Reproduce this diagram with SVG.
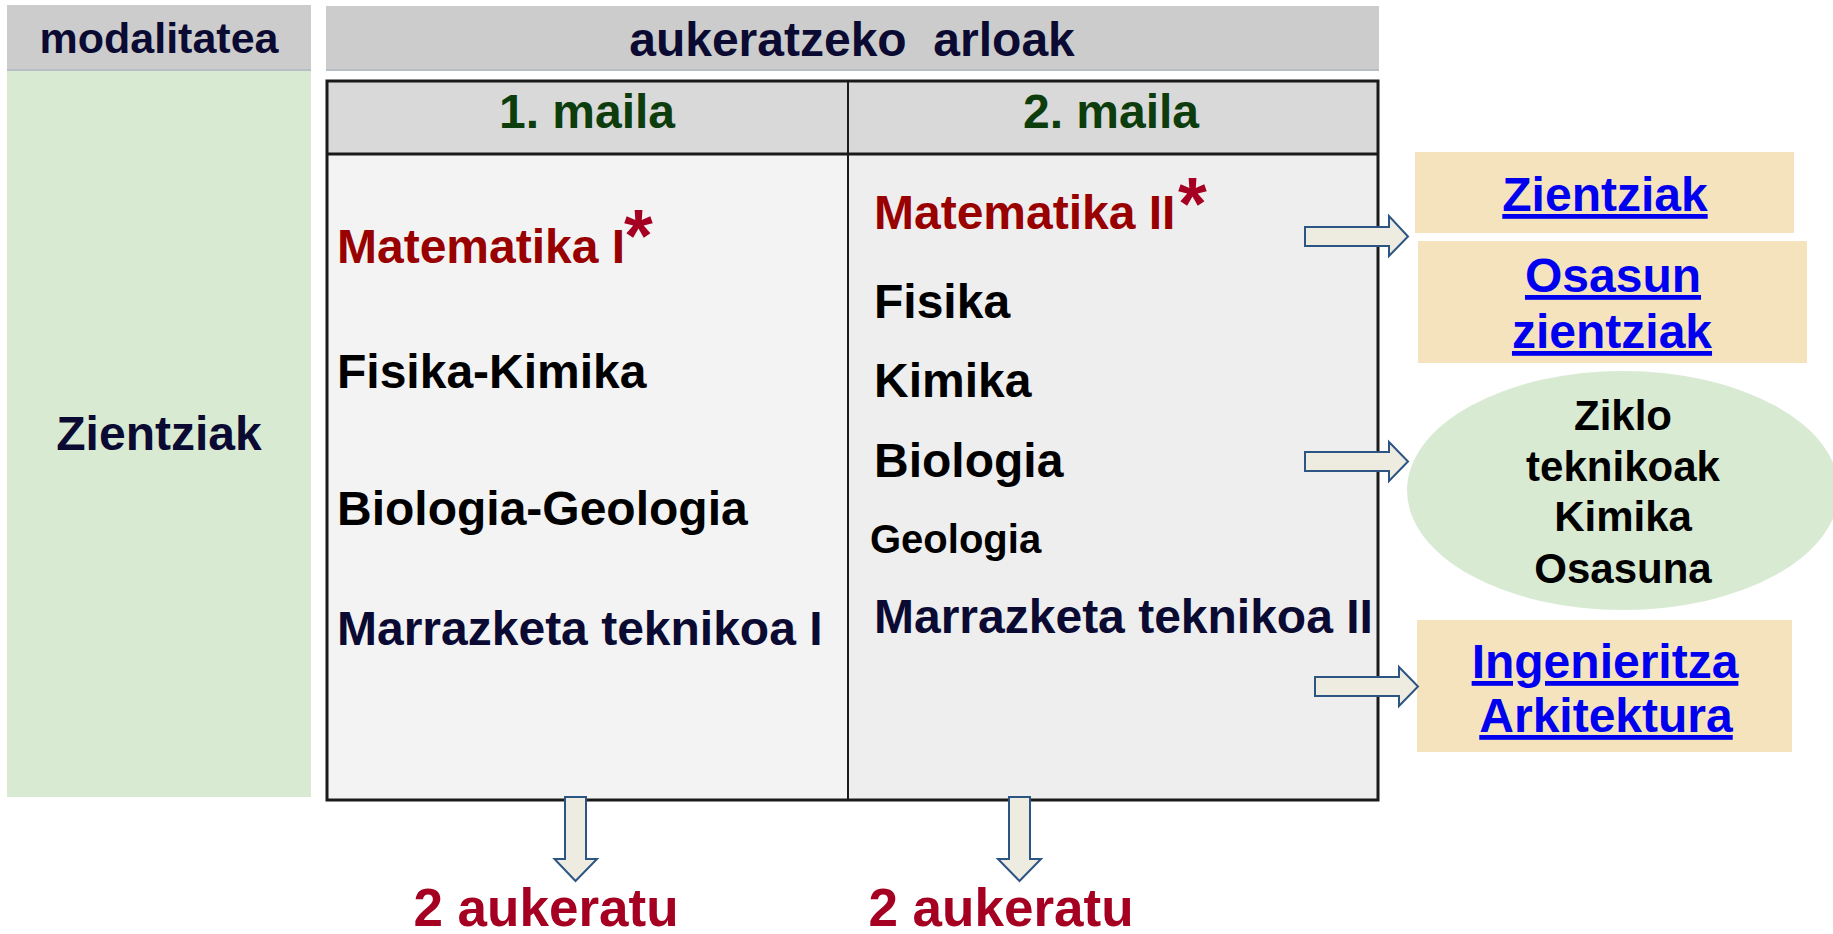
<svg xmlns="http://www.w3.org/2000/svg" width="1833" height="934" viewBox="0 0 1833 934">
<style>
text{font-family:"Liberation Sans",Arial,sans-serif;font-weight:bold}
.hdr{fill:#cccccc}
.navy{fill:#0a0a33}
.blk{fill:#000000}
.red{fill:#990000}
.star{fill:#a50021}
.green{fill:#0d3d0d}
.link{fill:#0000ee;text-decoration:underline}
.tan{fill:#f5e3bd}
.arr{fill:#eeece1;stroke:#2c5583;stroke-width:2;stroke-linejoin:miter}
.mid{text-anchor:middle}
</style>
<rect width="1833" height="934" fill="#ffffff"/>
<g id="modalitatea">
<rect class="hdr" x="7" y="5" width="304" height="65"/>
<line x1="7" y1="70" x2="311" y2="70" stroke="#b8bec6" stroke-width="2"/>
<text class="navy mid" x="159" y="53" font-size="43">modalitatea</text>
</g>
<g id="zientziak-col">
<rect x="7" y="71" width="304" height="726" fill="#d9ead3"/>
<text class="navy mid" x="159" y="450" font-size="48">Zientziak</text>
</g>
<g id="arloak-header">
<rect class="hdr" x="326" y="6" width="1053" height="64"/>
<line x1="326" y1="70" x2="1379" y2="70" stroke="#b8bec6" stroke-width="2"/>
<text class="navy mid" x="852" y="56" font-size="48" xml:space="preserve">aukeratzeko  arloak</text>
</g>
<g id="table">
<rect x="327" y="81" width="521" height="73" fill="#d9d9d9"/>
<rect x="848" y="81" width="530" height="73" fill="#d9d9d9"/>
<rect x="327" y="154" width="521" height="646" fill="#f3f3f3"/>
<rect x="848" y="154" width="530" height="646" fill="#eeeeee"/>
<rect x="327" y="81" width="1051" height="719" fill="none" stroke="#1a1a1a" stroke-width="3"/>
<line x1="327" y1="154" x2="1378" y2="154" stroke="#1a1a1a" stroke-width="3"/>
<line x1="848" y1="81" x2="848" y2="800" stroke="#1a1a1a" stroke-width="2"/>
</g>
<g id="maila1">
<text class="green mid" x="587" y="128" font-size="48">1. maila</text>
<text class="red" x="337" y="263" font-size="48">Matematika I</text>
<text class="star" x="624" y="261" font-size="74">*</text>
<text class="blk" x="337" y="388" font-size="48">Fisika-Kimika</text>
<text class="blk" x="337" y="525" font-size="48">Biologia-Geologia</text>
<text class="navy" x="337" y="645" font-size="48">Marrazketa teknikoa I</text>
</g>
<g id="maila2">
<text class="green mid" x="1111" y="128" font-size="48">2. maila</text>
<text class="red" x="874" y="229" font-size="48">Matematika II</text>
<text class="star" x="1178" y="229" font-size="74">*</text>
<text class="blk" x="874" y="318" font-size="48">Fisika</text>
<text class="blk" x="874" y="397" font-size="48">Kimika</text>
<text class="blk" x="874" y="477" font-size="48">Biologia</text>
<text class="blk" x="870" y="553" font-size="40">Geologia</text>
<text class="navy" x="874" y="633" font-size="48">Marrazketa teknikoa II</text>
</g>
<g id="box-zientziak">
<rect class="tan" x="1415" y="152" width="379" height="81"/>
<text class="link mid" x="1605" y="211" font-size="48">Zientziak</text>
</g>
<g id="box-osasun">
<rect class="tan" x="1418" y="241" width="389" height="122"/>
<text class="link mid" x="1613" y="292" font-size="48">Osasun</text>
<text class="link mid" x="1612" y="348" font-size="48">zientziak</text>
</g>
<g id="ziklo">
<ellipse cx="1623" cy="490.5" rx="216" ry="119.5" fill="#d9ead3"/>
<text class="blk mid" x="1623" y="430" font-size="42">Ziklo</text>
<text class="blk mid" x="1623" y="481" font-size="42">teknikoak</text>
<text class="blk mid" x="1623" y="531" font-size="42">Kimika</text>
<text class="blk mid" x="1623" y="583" font-size="42">Osasuna</text>
</g>
<g id="box-ingenieritza">
<rect class="tan" x="1417" y="620" width="375" height="132"/>
<text class="link mid" x="1605" y="678" font-size="48">Ingenieritza</text>
<text class="link mid" x="1606" y="732" font-size="48">Arkitektura</text>
</g>
<g id="connectors">
<path class="arr" d="M1305,227 H1389 V216 L1408,236.5 L1389,256 V246 H1305 Z"/>
<path class="arr" d="M1305,452 H1389 V442 L1408,461.5 L1389,481 V471 H1305 Z"/>
<path class="arr" d="M1315,677 H1399 V667 L1418,686.5 L1399,706 V696 H1315 Z"/>
<path class="arr" d="M565,797 V859 H554.5 L575.5,881 L597,859 H586 V797 Z"/>
<path class="arr" d="M1009,797 V859 H998 L1019.5,881 L1041,859 H1030 V797 Z"/>
</g>
<g id="labels">
<text class="star mid" x="546" y="926" font-size="53">2 aukeratu</text>
<text class="star mid" x="1001" y="926" font-size="53">2 aukeratu</text>
</g>
</svg>
